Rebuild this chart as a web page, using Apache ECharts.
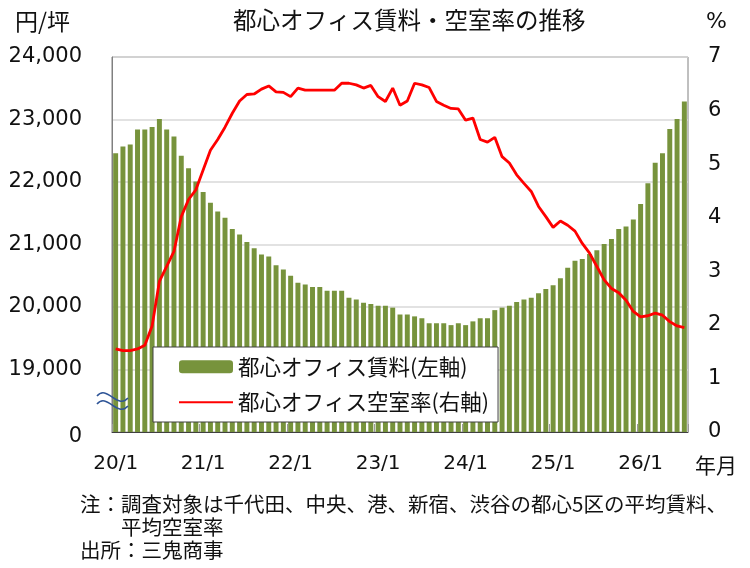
<!DOCTYPE html>
<html lang="ja">
<head>
<meta charset="utf-8">
<title>都心オフィス賃料・空室率の推移</title>
<script src="https://cdn.jsdelivr.net/npm/echarts@6/dist/echarts.min.js"></script>
<style>
  html, body { margin: 0; padding: 0; background: #fff; }
  #chart { width: 750px; height: 568px; }
</style>
</head>
<body>
<div id="chart"></div>
<script>
/* 都心5区 月次データ 2020/1 〜 2026/7 */
const startYear = 2020;
const monthCount = 79;

/* 平均賃料 (円/坪) */
const rentValues = [
  22460, 22570, 22600, 22840, 22840, 22880, 23010, 22840, 22730, 22420, 22220, 22010,
  21840, 21670, 21530, 21430, 21250, 21160, 21040, 20940, 20840, 20810, 20670, 20600,
  20500, 20390, 20360, 20320, 20320, 20260, 20260, 20260, 20150, 20120, 20070, 20050,
  20020, 20020, 19990, 19880, 19880, 19850, 19820, 19740, 19740, 19740, 19710, 19740,
  19710, 19770, 19820, 19820, 19950, 19990, 20020, 20080, 20120, 20150, 20220, 20290,
  20350, 20460, 20630, 20740, 20770, 20850, 20910, 21010, 21090, 21250, 21290, 21400,
  21650, 21980, 22310, 22460, 22850, 23010, 23290
];

/* 平均空室率 (%) */
const vacancyValues = [
  1.55, 1.52, 1.52, 1.55, 1.62, 1.98, 2.81, 3.09, 3.37, 4.02, 4.34, 4.52,
  4.89, 5.26, 5.46, 5.69, 5.95, 6.18, 6.30, 6.31, 6.40, 6.46, 6.35, 6.34,
  6.26, 6.42, 6.38, 6.38, 6.38, 6.38, 6.38, 6.51, 6.51, 6.48, 6.42, 6.47,
  6.26, 6.17, 6.42, 6.10, 6.18, 6.51, 6.48, 6.43, 6.17, 6.10, 6.04, 6.03,
  5.82, 5.86, 5.46, 5.41, 5.50, 5.14, 5.02, 4.80, 4.64, 4.49, 4.21, 4.02,
  3.82, 3.94, 3.86, 3.75, 3.52, 3.34, 3.09, 2.84, 2.68, 2.60, 2.46, 2.25,
  2.15, 2.17, 2.22, 2.18, 2.06, 1.98, 1.95
];

const leftTicks = [18000, 24000, 1000];   // min, max, interval (18000 は「0」表示)
const rightTicks = [0, 7, 1];

const legendNames = ['都心オフィス賃料(左軸)', '都心オフィス空室率(右軸)'];
const noteLines = [
  '注：調査対象は千代田、中央、港、新宿、渋谷の都心5区の平均賃料、',
  '　　平均空室率',
  '出所：三鬼商事'
];

/* カテゴリ (yy/m) */
const categories = [];
for (let i = 0; i < monthCount; i++) {
  const y = startYear + Math.floor(i / 12);
  const m = (i % 12) + 1;
  categories.push(String(y).slice(2) + '/' + m);
}

const FONT = '"Noto Sans CJK JP", "Noto Sans", sans-serif';
const NUM_FONT = '"DejaVu Sans", "Noto Sans CJK JP", sans-serif';
const TEXT = '#111111';
const WAVE = '#2f5597';

const chart = echarts.init(document.getElementById('chart'), null, { renderer: 'canvas' });

chart.setOption({
  backgroundColor: '#ffffff',
  animation: false,
  textStyle: { fontFamily: FONT, color: TEXT },
  title: {
    text: '都心オフィス賃料・空室率の推移',
    left: 228,
    top: 3,
    textStyle: { fontFamily: FONT, fontSize: 23.5, fontWeight: 'normal', color: TEXT }
  },
  grid: {
    left: 112, right: 62, top: 57, bottom: 136,
    show: true, borderColor: '#808080', borderWidth: 1, backgroundColor: '#ffffff'
  },
  legend: {
    orient: 'vertical',
    left: 153,
    top: 347,
    padding: [9, 9, 9, 25],
    itemGap: 14,
    itemWidth: 54,
    itemHeight: 13,
    backgroundColor: '#ffffff',
    borderColor: '#404040',
    borderWidth: 1,
    borderRadius: 0,
    textStyle: { fontFamily: FONT, fontSize: 21.5, color: TEXT },
    data: [
      { name: legendNames[0] },
      { name: legendNames[1], itemStyle: { opacity: 0 } }
    ]
  },
  xAxis: {
    type: 'category',
    data: categories,
    boundaryGap: true,
    axisLine: { lineStyle: { color: '#404040', width: 1 } },
    axisTick: { show: true, inside: true, length: 8, interval: 11, lineStyle: { color: '#999999' } },
    axisLabel: {
      interval: 11, margin: 22, fontSize: 20, color: TEXT, fontFamily: NUM_FONT
    },
    splitLine: { show: false }
  },
  yAxis: [
    {
      type: 'value',
      min: leftTicks[0], max: leftTicks[1], interval: leftTicks[2],
      axisLine: { show: true, lineStyle: { color: '#808080' } },
      axisTick: { show: false },
      axisLabel: {
        margin: 30, fontSize: 21, color: TEXT, fontFamily: NUM_FONT,
        formatter: (v) => (v === leftTicks[0] ? '{z|0}' : v.toLocaleString('en-US')),
        rich: { z: { fontSize: 21, fontFamily: NUM_FONT, color: TEXT, padding: [10, 0, 0, 0] } }
      },
      splitLine: { show: true, lineStyle: { color: '#d9d9d9', width: 1.5 } }
    },
    {
      type: 'value',
      min: rightTicks[0], max: rightTicks[1], interval: rightTicks[2],
      position: 'right',
      axisLine: { show: false },
      axisTick: { show: false },
      axisLabel: { margin: 20, fontSize: 21, color: TEXT, fontFamily: NUM_FONT },
      splitLine: { show: false }
    }
  ],
  series: [
    {
      name: legendNames[0],
      type: 'bar',
      yAxisIndex: 0,
      data: rentValues,
      barCategoryGap: '32%',
      itemStyle: { color: '#77933c' }
    },
    {
      name: legendNames[1],
      type: 'line',
      yAxisIndex: 1,
      data: vacancyValues,
      symbol: 'none',
      lineStyle: { color: '#ff0000', width: 2.8 },
      itemStyle: { color: '#ff0000' },
      z: 3
    }
  ],
  graphic: [
    { type: 'text', left: 15, top: 10,
      style: { text: '円/坪', font: '23px ' + FONT, fill: TEXT } },
    { type: 'text', left: 706, top: 11,
      style: { text: '%', font: '22px ' + NUM_FONT, fill: TEXT } },
    { type: 'text', left: 695, top: 455,
      style: { text: '年月', font: '21px ' + FONT, fill: TEXT } },
    /* 軸の省略記号 (波線) */
    { type: 'bezierCurve', z: 100,
      shape: { x1: 97, y1: 396, cpx1: 107, cpy1: 384, cpx2: 117, cpy2: 410, x2: 128, y2: 398 },
      style: { fill: 'none', stroke: WAVE, lineWidth: 1.6 } },
    { type: 'bezierCurve', z: 100,
      shape: { x1: 97, y1: 404, cpx1: 107, cpy1: 392, cpx2: 117, cpy2: 418, x2: 128, y2: 406 },
      style: { fill: 'none', stroke: WAVE, lineWidth: 1.6 } },
    { type: 'text', left: 80, top: 494,
      style: { text: noteLines[0], font: '20.5px ' + FONT, fill: TEXT } },
    { type: 'text', left: 80, top: 517,
      style: { text: noteLines[1], font: '20.5px ' + FONT, fill: TEXT } },
    { type: 'text', left: 80, top: 540,
      style: { text: noteLines[2], font: '20.5px ' + FONT, fill: TEXT } }
  ]
});
</script>
</body>
</html>
